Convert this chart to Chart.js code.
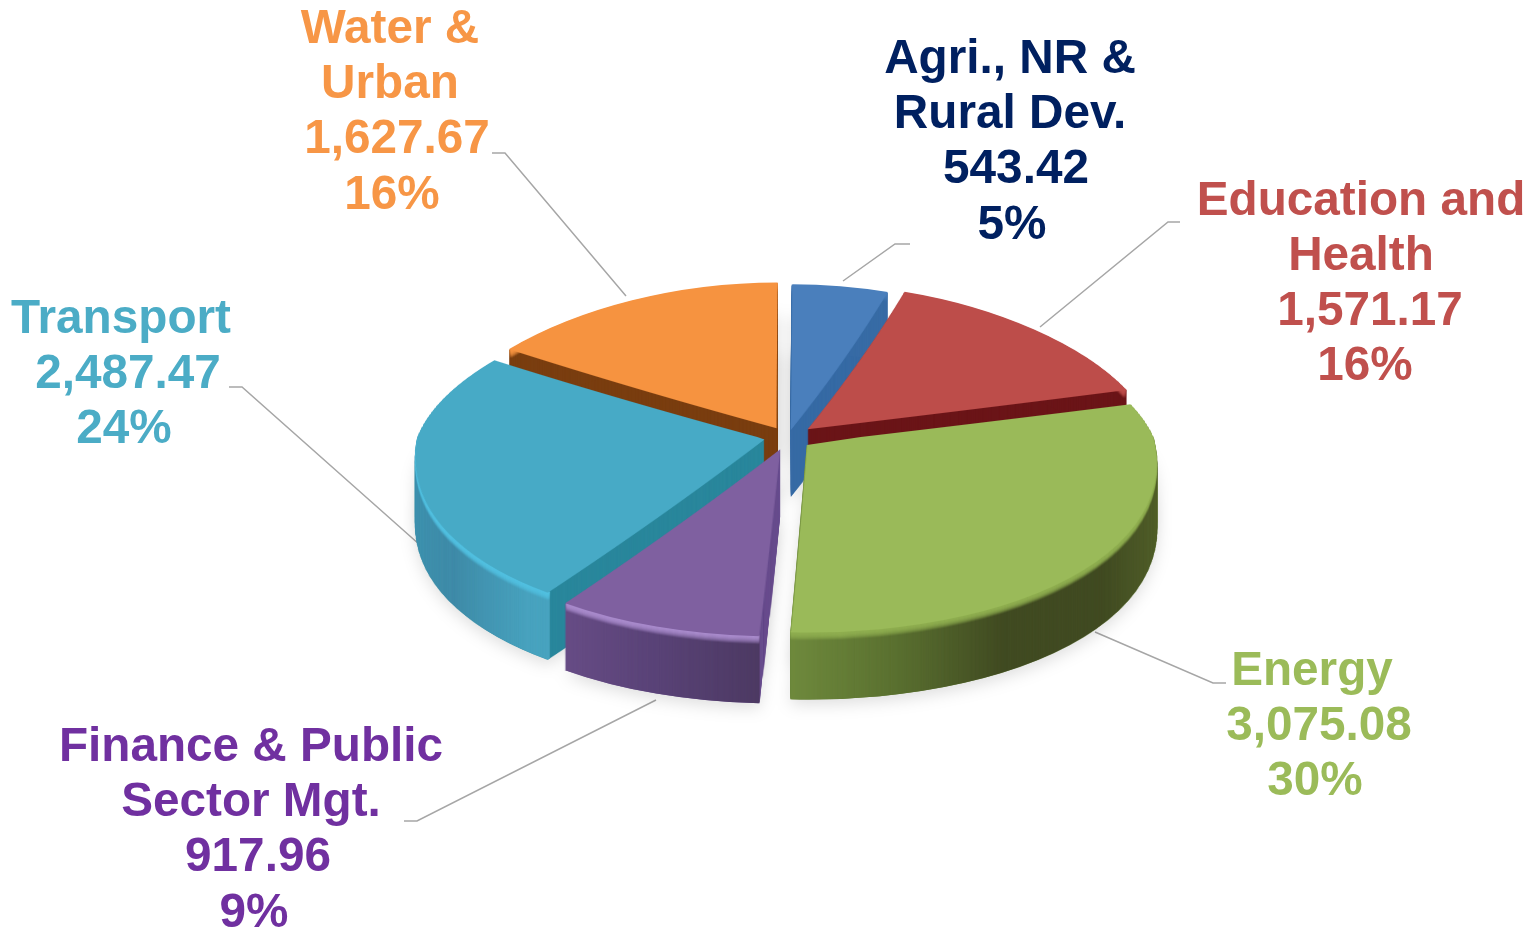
<!DOCTYPE html>
<html lang="en">
<head>
  <meta charset="UTF-8">
  <title>Sector shares</title>
  <script src="https://cdn.jsdelivr.net/npm/chart.js"></script>
  <style>
    body { margin: 0; background: #fff; overflow: hidden; }
    canvas { display: block; }
  </style>
</head>
<body>
  <canvas id="pie" width="1531" height="929"></canvas>

  <script>
    // Data, clockwise from the top
    const categories = ['Agri., NR & Rural Dev.', 'Education and Health', 'Energy', 'Finance & Public Sector Mgt.', 'Transport', 'Water & Urban'];
    const nameLines = [['Agri., NR &', 'Rural Dev.'], ['Education and', 'Health'], ['Energy'], ['Finance & Public', 'Sector Mgt.'], ['Transport'], ['Water &', 'Urban']];
    const values = [543.42, 1571.17, 3075.08, 917.96, 2487.47, 1627.67];
    const valueLabels = ['543.42', '1,571.17', '3,075.08', '917.96', '2,487.47', '1,627.67'];
    const percentLabels = ['5%', '16%', '30%', '9%', '24%', '16%'];

    // Colours
    const faceColors = ['#4a7fbc', '#bd4d4a', '#9aba59', '#7f60a0', '#47aac6', '#f69340'];
    const innerWallColors = ['#376ba5', '#6b1518', '#5f7a30', '#6a4f8f', '#2a879c', '#7a3e10'];
    const outerWallStops = [
      ['#376ba5', '#376ba5'],
      ['#6b1518', '#6b1518'],
      ['#6f8a3d', '#5a7030', '#414b22', '#414b22', '#5a6a2e'],
      ['#6a4f88', '#5a4378', '#4d3a63'],
      ['#3f97b4', '#3f8ba8', '#48a3bf'],
      ['#7a3e10', '#7a3e10']
    ];
    const rimColors = ['#4a7fbc', '#bd4d4a', '#8fae50', '#a98bcc', '#52c0e0', '#f69340'];
    const labelColors = ['#002060', '#c0504d', '#9bbb59', '#7030a0', '#4bacc6', '#f79646'];

    // Label placement: x of name, value and percent lines, first baseline
    const labelX = [[1010, 1016, 1012], [1361, 1370, 1365], [1312, 1319, 1315], [251, 258, 254], [121, 128, 124], [390, 397, 392]];
    const labelY = [73, 214.5, 685, 761, 333, 43];
    const leaders = [
      [[843, 281], [895, 244], [910, 244]],
      [[1040, 327], [1168, 222], [1180, 222]],
      [[1095, 632], [1213, 683], [1226, 683]],
      [[656, 700], [417, 821], [404, 821]],
      [[420, 545], [242, 387], [229, 387]],
      [[626, 296], [505, 153], [492, 153]]
    ];

    const W = 1531;
    const H = 929;
    const lineStep = 55.2;
    const depth = 67;
    const rimDepth = 8;
    const backTilt = 0.42;   // back half of the disc is flatter than the front
    const frontTilt = 0.54;
    const backNarrow = 0.0009;  // perspective: width change per pixel away from the centre row
    const frontWiden = 0.0005;
    const drawOrder = [5, 0, 1, 4, 3, 2];

    function makeCanvas() {
      const c = document.createElement('canvas');
      c.width = W;
      c.height = H;
      return c;
    }

    const flat = makeCanvas();
    const flatCtx = flat.getContext('2d');

    // The arc is drawn by the library; the top and bottom halves get their own squash
    function drawArc(ctx, arc, fill, ring) {
      const ghost = Object.create(arc);
      ghost.options = Object.assign({}, arc.options, { backgroundColor: fill, borderWidth: 0 });
      // ArcElement grows narrow slices by offset/4 * fix, take that back out
      const fix = 1 - Math.sin(Math.min(Math.PI, arc.circumference));
      ghost.outerRadius = arc.outerRadius - (arc.options.offset / 4) * fix;
      if (ring) ghost.innerRadius = ghost.outerRadius - 4;

      [[backTilt, 0, arc.y], [frontTilt, arc.y, H]].forEach(([tilt, top, bottom]) => {
        ctx.save();
        ctx.beginPath();
        ctx.rect(0, top, W, bottom - top);
        ctx.clip();
        ctx.translate(0, arc.y);
        ctx.scale(1, tilt);
        ctx.translate(0, -arc.y);
        ghost.draw(ctx);
        ctx.restore();
      });
    }

    // One slice as a sprite, each row stretched around the centre for the perspective
    function sliceSprite(arc, fill, ring) {
      flatCtx.clearRect(0, 0, W, H);
      drawArc(flatCtx, arc, typeof fill === 'function' ? fill(flatCtx) : fill, ring);
      const sprite = makeCanvas();
      const sCtx = sprite.getContext('2d');
      for (let y = 0; y < H; y++) {
        const d = y - arc.y;
        const s = 1 + (d < 0 ? backNarrow : frontWiden) * d;
        sCtx.drawImage(flat, 0, y, W, 1, arc.x - arc.x * s, y, W * s, 1);
      }
      return sprite;
    }

    function wallGradient(ctx, arc, stops) {
      const g = ctx.createLinearGradient(arc.x - 375, 0, arc.x + 375, 0);
      // the stops run over the slice's own x range
      const xs = [Math.cos(arc.startAngle), Math.cos(arc.endAngle)];
      let lo = Math.min(xs[0], xs[1]);
      let hi = Math.max(xs[0], xs[1]);
      if (arc.startAngle < 0 && arc.endAngle > 0) hi = 1;
      if (arc.startAngle < Math.PI && arc.endAngle > Math.PI) lo = -1;
      stops.forEach((c, i) => {
        const t = lo + (hi - lo) * (i / (stops.length - 1));
        g.addColorStop(Math.min(1, Math.max(0, (t + 1) / 2)), c);
      });
      return g;
    }

    const tiltedPie = {
      id: 'tiltedPie',
      beforeDatasetDraw(chart) {
        const ctx = chart.ctx;
        const arcs = chart.getDatasetMeta(0).data;

        // leader lines sit behind the pie
        ctx.save();
        ctx.strokeStyle = '#a6a6a6';
        ctx.lineWidth = 1.5;
        leaders.forEach(pts => {
          ctx.beginPath();
          pts.forEach((p, i) => i ? ctx.lineTo(p[0], p[1]) : ctx.moveTo(p[0], p[1]));
          ctx.stroke();
        });
        ctx.restore();

        // soft shadow under the disc
        const off = makeCanvas();
        const offCtx = off.getContext('2d');
        arcs.forEach(arc => {
          const sprite = sliceSprite(arc, 'rgba(0,0,0,0.13)', false);
          offCtx.drawImage(sprite, 0, depth / 2);
          offCtx.drawImage(sprite, 0, depth + 5);
        });
        ctx.save();
        ctx.filter = 'blur(8px)';
        ctx.drawImage(off, 0, 0);
        ctx.restore();

        drawOrder.forEach(i => {
          const arc = arcs[i];
          const inner = sliceSprite(arc, innerWallColors[i], false);
          const outer = sliceSprite(arc, c => wallGradient(c, arc, outerWallStops[i]), true);
          const rim = sliceSprite(arc, rimColors[i], true);
          const face = sliceSprite(arc, faceColors[i], false);

          for (let d = depth; d >= 1; d--) ctx.drawImage(inner, 0, d);
          for (let d = depth; d >= 1; d--) ctx.drawImage(outer, 0, d);
          for (let d = rimDepth; d >= 1; d--) {
            ctx.globalAlpha = 1 - (d - 1) / rimDepth;
            ctx.drawImage(rim, 0, d);
          }
          ctx.globalAlpha = 1;
          ctx.drawImage(face, 0, 0);
        });
        return false;
      },
      afterDraw(chart) {
        const ctx = chart.ctx;
        ctx.save();
        ctx.font = 'bold 47.7px "Liberation Sans", Arial, sans-serif';
        ctx.textAlign = 'center';
        ctx.textBaseline = 'alphabetic';
        categories.forEach((name, i) => {
          ctx.fillStyle = labelColors[i];
          let y = labelY[i];
          nameLines[i].forEach(line => {
            ctx.fillText(line, labelX[i][0], y);
            y += lineStep;
          });
          ctx.fillText(valueLabels[i], labelX[i][1], y);
          ctx.fillText(percentLabels[i], labelX[i][2], y + lineStep);
        });
        ctx.restore();
      }
    };

    new Chart(document.getElementById('pie'), {
      type: 'pie',
      data: {
        labels: categories,
        datasets: [{
          data: values,
          backgroundColor: faceColors,
          borderWidth: 0,
          offset: [68, 108, 96, 96, 96, 96],
          radius: 347
        }]
      },
      options: {
        responsive: false,
        animation: false,
        layout: { padding: { left: 45, bottom: 55 } },
        plugins: { legend: { display: false }, tooltip: { enabled: false } }
      },
      plugins: [tiltedPie]
    });
  </script>
</body>
</html>
